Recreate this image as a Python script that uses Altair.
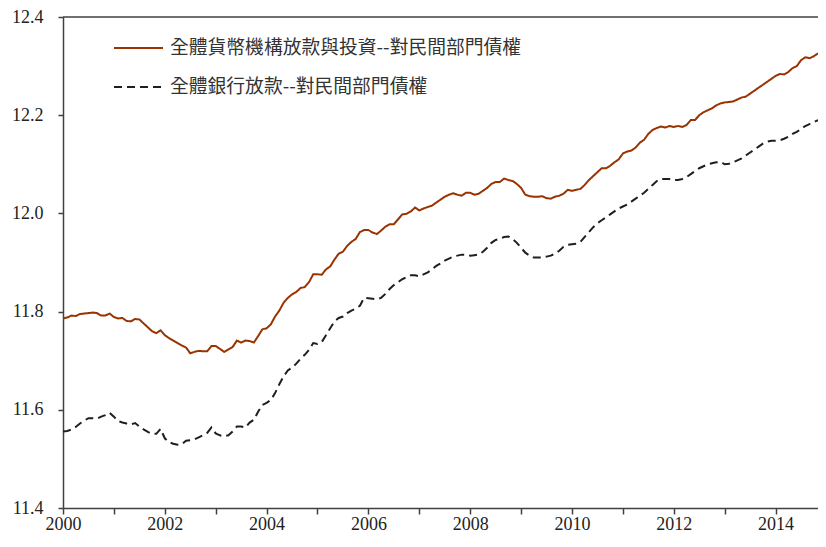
import altair as alt
import pandas as pd

series_names = ["全體貨幣機構放款與投資--對民間部門債權", "全體銀行放款--對民間部門債權"]
series_colors = ["#993300", "#1f1f1f"]

start_year = 2000
x_ticks = list(range(2000, 2015))
y_ticks = [11.4, 11.6, 11.8, 12.0, 12.2, 12.4]

# monthly values, Jan 2000 - Nov 2014
monetary = [
    11.786, 11.788, 11.792, 11.791, 11.795, 11.796, 11.797, 11.798, 11.797, 11.792, 11.792, 11.796,
    11.789, 11.786, 11.787, 11.781, 11.780, 11.785, 11.784, 11.776, 11.768, 11.760, 11.756, 11.762,
    11.752, 11.746, 11.741, 11.736, 11.731, 11.727, 11.715, 11.718, 11.720, 11.719, 11.719, 11.730,
    11.730, 11.724, 11.718, 11.723, 11.728, 11.741, 11.737, 11.741, 11.740, 11.737, 11.750, 11.764,
    11.766, 11.774, 11.790, 11.802, 11.818, 11.828, 11.835, 11.840, 11.848, 11.850, 11.860, 11.876,
    11.876, 11.875, 11.886, 11.892, 11.906, 11.918, 11.922, 11.934, 11.942, 11.948, 11.962, 11.966,
    11.966, 11.961, 11.958, 11.965, 11.973, 11.978, 11.978, 11.988, 11.998, 11.999, 12.004, 12.012,
    12.006, 12.010, 12.013, 12.016, 12.022, 12.028, 12.034, 12.038, 12.041, 12.038, 12.036, 12.042,
    12.042, 12.038, 12.040, 12.046, 12.052, 12.060, 12.064, 12.064, 12.071, 12.068, 12.066, 12.060,
    12.052, 12.038, 12.035, 12.034, 12.034, 12.035, 12.031, 12.030, 12.034, 12.036, 12.040, 12.048,
    12.046, 12.048, 12.050, 12.058, 12.068, 12.076, 12.084, 12.092, 12.092, 12.097, 12.104, 12.110,
    12.122, 12.126, 12.128, 12.134, 12.144, 12.150, 12.162, 12.170, 12.174, 12.177, 12.175, 12.178,
    12.176, 12.178, 12.176, 12.180, 12.190, 12.190, 12.200, 12.206, 12.210, 12.214, 12.220, 12.224,
    12.226, 12.227, 12.228, 12.232, 12.236, 12.238, 12.244, 12.250, 12.256, 12.262, 12.268, 12.274,
    12.280, 12.284, 12.283, 12.288, 12.296, 12.300, 12.312, 12.318, 12.316, 12.320, 12.326,
]

bank = [
    11.556, 11.557, 11.560, 11.565, 11.572, 11.578, 11.583, 11.583, 11.582, 11.586, 11.589, 11.594,
    11.586, 11.577, 11.574, 11.572, 11.570, 11.573, 11.566, 11.560, 11.555, 11.551, 11.551, 11.561,
    11.542, 11.534, 11.531, 11.529, 11.530, 11.537, 11.538, 11.540, 11.544, 11.548, 11.553, 11.564,
    11.552, 11.548, 11.546, 11.548, 11.556, 11.566, 11.566, 11.564, 11.574, 11.580, 11.596, 11.610,
    11.614, 11.620, 11.634, 11.652, 11.668, 11.680, 11.686, 11.694, 11.704, 11.712, 11.722, 11.736,
    11.734, 11.738, 11.752, 11.766, 11.780, 11.787, 11.790, 11.797, 11.802, 11.806, 11.812, 11.828,
    11.827, 11.826, 11.825, 11.828, 11.836, 11.846, 11.854, 11.860, 11.866, 11.870, 11.874, 11.874,
    11.872, 11.876, 11.880, 11.886, 11.893, 11.898, 11.904, 11.908, 11.912, 11.914, 11.916, 11.916,
    11.914, 11.915, 11.916, 11.922, 11.930, 11.940, 11.946, 11.948, 11.952, 11.953, 11.948, 11.940,
    11.930, 11.920, 11.914, 11.910, 11.910, 11.910, 11.912, 11.914, 11.918, 11.924, 11.932, 11.936,
    11.937, 11.938, 11.942, 11.952, 11.962, 11.972, 11.980, 11.986, 11.992, 11.998, 12.004, 12.010,
    12.014, 12.018, 12.024, 12.030, 12.036, 12.042, 12.050, 12.058, 12.066, 12.070, 12.070, 12.070,
    12.068, 12.068, 12.070, 12.074, 12.080, 12.086, 12.092, 12.096, 12.100, 12.102, 12.104, 12.105,
    12.100, 12.101, 12.104, 12.108, 12.112, 12.118, 12.124, 12.130, 12.136, 12.142, 12.146, 12.148,
    12.148, 12.149, 12.152, 12.156, 12.162, 12.166, 12.172, 12.178, 12.182, 12.186, 12.190,
]

rows = []
for name, vals in zip(series_names, [monetary, bank]):
    for i, v in enumerate(vals):
        rows.append({"t": start_year + i / 12.0, "v": v, "s": name})
df = pd.DataFrame(rows)

x_end = start_year + (len(monetary) - 1) / 12.0

leg = alt.Legend(
    title=None,
    orient="none",
    legendX=50,
    legendY=21,
    symbolType="stroke",
    symbolSize=2401,
    symbolStrokeWidth=2,
    clipHeight=20,
    rowPadding=19,
    labelOffset=6,
    labelFont="Noto Sans CJK TC",
    labelFontSize=18.8,
    labelColor="#333333",
    labelLimit=600,
    padding=0,
)

lines = alt.Chart(df).mark_line(strokeWidth=2).encode(
    x=alt.X(
        "t:Q",
        scale=alt.Scale(domain=[start_year, x_end], nice=False, zero=False),
        axis=alt.Axis(
            values=x_ticks,
            format="d",
            labelExpr="datum.value % 2 == 0 ? datum.label : ''",
            labelFlush=False,
            title=None,
            grid=False,
            tickSize=6,
            labelPadding=1,
        ),
    ),
    y=alt.Y(
        "v:Q",
        scale=alt.Scale(domain=[11.4, 12.4], nice=False, zero=False),
        axis=alt.Axis(
            values=y_ticks,
            format=".1f",
            title=None,
            grid=False,
            tickSize=5,
            labelPadding=15,
        ),
    ),
    color=alt.Color("s:N", scale=alt.Scale(domain=series_names, range=series_colors), legend=leg),
    strokeDash=alt.StrokeDash(
        "s:N", scale=alt.Scale(domain=series_names, range=[[1, 0], [8, 5]]), legend=leg
    ),
)

top_border = alt.Chart(pd.DataFrame({"v": [y_ticks[-1]]})).mark_rule(
    color="#404040", strokeWidth=1.5
).encode(y=alt.Y("v:Q"))

chart = (
    alt.layer(lines, top_border)
    .properties(
        width=755,
        height=491,
        autosize=alt.AutoSizeParams(type="none"),
        padding={"left": 55, "top": 9, "right": 0, "bottom": 28},
    )
    .configure_view(stroke=None)
    .configure_axis(
        labelFont="Liberation Serif",
        labelFontSize=18,
        labelColor="#222222",
        domainColor="#404040",
        domainWidth=1.5,
        tickColor="#404040",
        tickWidth=1.5,
    )
)

chart.save("out.html", embed_options={"renderer": "svg", "actions": False})
